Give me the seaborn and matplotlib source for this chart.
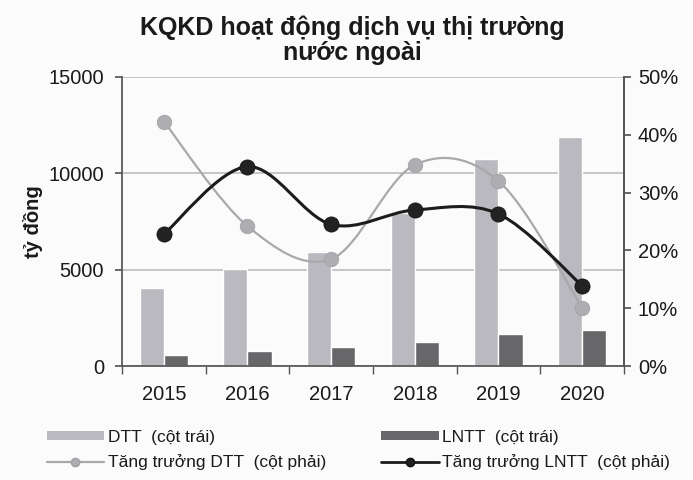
import numpy as np
import pandas as pd
import matplotlib
matplotlib.use("Agg")
import matplotlib.pyplot as plt
import seaborn as sns
from matplotlib.path import Path
from matplotlib.patches import PathPatch, Patch
from matplotlib.lines import Line2D
from matplotlib.ticker import FuncFormatter

years = ["2015", "2016", "2017", "2018", "2019", "2020"]
dtt = [4050, 5020, 5930, 7950, 10730, 11900]
lntt = [570, 780, 1000, 1260, 1640, 1870]
growth_dtt = [0.423, 0.242, 0.185, 0.348, 0.320, 0.101]
growth_lntt = [0.228, 0.345, 0.245, 0.270, 0.263, 0.139]

sns.set_theme(style="white")
plt.rcParams['font.family'] = ['Liberation Sans', 'DejaVu Sans']
plt.rcParams['text.color'] = '#1a1a1a'
plt.rcParams['xtick.color'] = '#1a1a1a'
plt.rcParams['ytick.color'] = '#1a1a1a'
plt.rcParams['axes.labelcolor'] = '#1a1a1a'

fig = plt.figure(figsize=(6.93, 4.8), dpi=100)
fig.patch.set_facecolor("#fbfbfb")
ax = fig.add_axes([122/693, 1-366/480, 502/693, 289/480])
ax.set_facecolor("#fbfbfb")

df = pd.DataFrame({
    "year": years * 2,
    "value": dtt + lntt,
    "series": ["DTT"] * 6 + ["LNTT"] * 6,
})
sns.barplot(data=df, x="year", y="value", hue="series", ax=ax, width=0.58,
            palette={"DTT": "#b9b9bf", "LNTT": "#676769"}, legend=False,
            saturation=1, zorder=2)
ax.set_ylim(0, 15000)
ax.set_xlim(-0.5, 5.5)
ax.set_yticks([0, 5000, 10000, 15000])
ax.set_yticklabels(["0", "5000", "10000", "15000"])
ax.yaxis.grid(True, color="#bdbdbd", linewidth=1.2, zorder=0)
ax.set_axisbelow(True)
ax.set_xlabel("")
ax.set_ylabel("tỷ đồng", fontsize=14.5, fontweight="bold", labelpad=4)
ax.spines["top"].set_visible(False)
for s in ["left", "bottom", "right"]:
    ax.spines[s].set_color("#555555")
ax.tick_params(axis="y", labelsize=14.5, length=5, color="#555555", left=True, pad=8, colors="#1a1a1a")
ax.tick_params(axis="x", labelsize=14.5, length=0, pad=14)
ax.set_xticks(np.arange(-0.5, 6.0, 1.0), minor=True)
ax.tick_params(axis="x", which="minor", length=6, color="#555555", bottom=True, direction="out")

ax2 = ax.twinx()
ax2.set_ylim(0, 0.5)
ax2.set_yticks([0, 0.1, 0.2, 0.3, 0.4, 0.5])
ax2.yaxis.set_major_formatter(FuncFormatter(lambda v, p: f"{int(round(v*100))}%"))
ax2.tick_params(axis="y", labelsize=14.5, length=5, color="#555555", right=True, pad=5)
for s in ["top", "left", "bottom"]:
    ax2.spines[s].set_visible(False)
ax2.spines["right"].set_color("#555555")

def smooth_path(xs, ys):
    pts = np.column_stack([xs, ys])
    verts = [pts[0]]
    codes = [Path.MOVETO]
    n = len(pts)
    for i in range(n - 1):
        p0 = pts[i - 1] if i > 0 else pts[i]
        p1 = pts[i]
        p2 = pts[i + 1]
        p3 = pts[i + 2] if i + 2 < n else pts[i + 1]
        c1 = p1 + (p2 - p0) / 6.0
        c2 = p2 - (p3 - p1) / 6.0
        verts += [c1, c2, p2]
        codes += [Path.CURVE4] * 3
    return Path(verts, codes)

xpos = np.arange(len(years), dtype=float)
ax2.add_patch(PathPatch(smooth_path(xpos, np.array(growth_dtt)), facecolor="none",
                        edgecolor="#a9a9ab", linewidth=1.6, zorder=3))
ax2.add_patch(PathPatch(smooth_path(xpos, np.array(growth_lntt)), facecolor="none",
                        edgecolor="#1c1c1c", linewidth=2.2, zorder=4))
gdf = pd.DataFrame({"x": xpos, "g1": growth_dtt, "g2": growth_lntt})
sns.scatterplot(data=gdf, x="x", y="g1", ax=ax2, s=110, color="#aeaeb2",
                edgecolor="#a0a0a4", linewidth=0.5, zorder=5, legend=False)
sns.scatterplot(data=gdf, x="x", y="g2", ax=ax2, s=120, color="#222222",
                edgecolor="#111111", linewidth=0.5, zorder=6, legend=False)
ax2.set_xlim(-0.5, 5.5)
ax2.set_ylabel("")
ax2.set_xlabel("")

fig.text(0.508, 0.968, "KQKD hoạt động dịch vụ thị trường\nnước ngoài", ha="center",
         va="top", fontsize=18, fontweight="bold", linespacing=1.08)

handles = [
    Patch(facecolor="#b9b9bf", edgecolor="none"),
    Line2D([0], [0], color="#a9a9ab", lw=1.6, marker="o", markersize=6,
           markerfacecolor="#aeaeb2", markeredgecolor="#a0a0a4"),
    Patch(facecolor="#676769", edgecolor="none"),
    Line2D([0], [0], color="#1c1c1c", lw=2.0, marker="o", markersize=6,
           markerfacecolor="#222222", markeredgecolor="#111111"),
]
labels = ["DTT  (cột trái)", "Tăng trưởng DTT  (cột phải)",
          "LNTT  (cột trái)", "Tăng trưởng LNTT  (cột phải)"]
fig.legend(handles, labels, loc="lower left", bbox_to_anchor=(0.045, -0.012),
           ncol=2, frameon=False, fontsize=12.5, handlelength=3.3,
           handletextpad=0.2, columnspacing=3.2, labelspacing=0.55,
           handleheight=0.5)

fig.savefig("out.png", dpi=100, facecolor=fig.get_facecolor())
